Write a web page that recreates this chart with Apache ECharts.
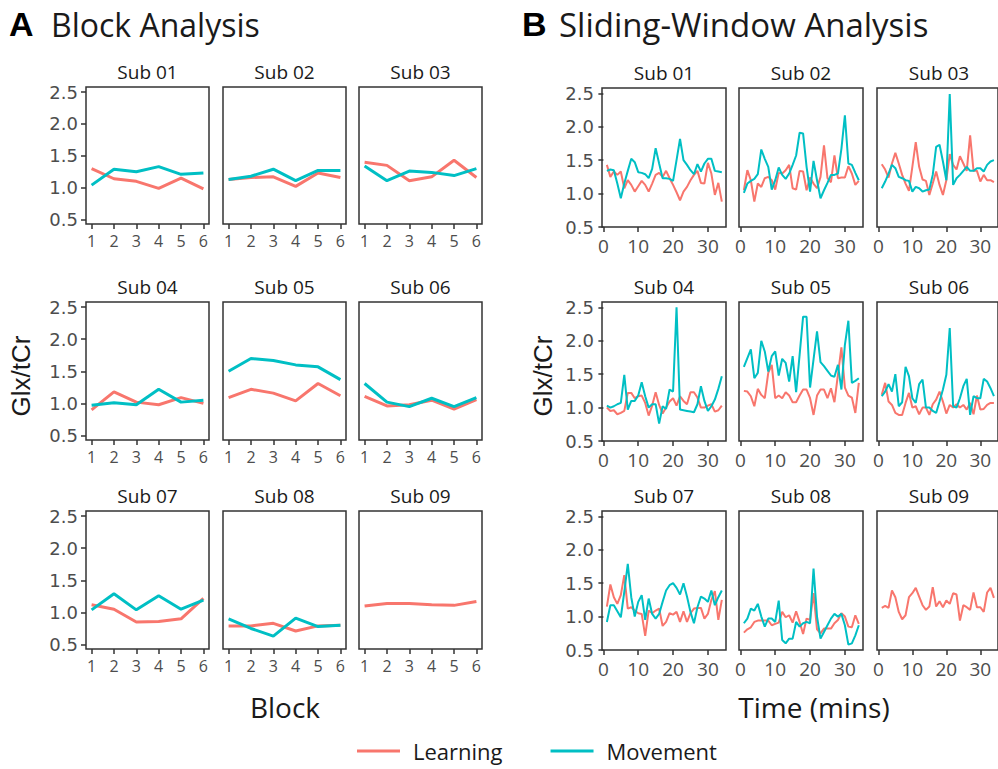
<!DOCTYPE html>
<html><head><meta charset="utf-8">
<script src="https://cdn.jsdelivr.net/npm/echarts@6/dist/echarts.min.js"></script>
<style>html,body{margin:0;padding:0;background:#fff}#chart{width:998px;height:769px}</style>
</head><body><div id="chart"></div>
<script>
// ---------- data ----------
const subjects = ['Sub 01','Sub 02','Sub 03','Sub 04','Sub 05','Sub 06','Sub 07','Sub 08','Sub 09'];
const legendNames = ['Learning','Movement'];
const blocks = [1,2,3,4,5,6];
const blockLearning = [
  [1.30,1.14,1.10,0.99,1.15,0.98],
  [1.13,1.16,1.17,1.02,1.23,1.16],
  [1.40,1.35,1.11,1.17,1.43,1.16],
  [0.90,1.18,1.02,0.98,1.09,1.00],
  [1.09,1.22,1.16,1.04,1.31,1.12],
  [1.11,0.96,0.98,1.05,0.91,1.06],
  [1.12,1.05,0.85,0.86,0.90,1.22],
  [0.79,0.79,0.83,0.71,0.79,0.80],
  [1.10,1.14,1.14,1.12,1.11,1.17]
];
const blockMovement = [
  [1.04,1.29,1.25,1.33,1.21,1.23],
  [1.13,1.18,1.29,1.11,1.27,1.27],
  [1.34,1.11,1.26,1.24,1.19,1.30],
  [0.97,1.01,0.98,1.22,1.02,1.05],
  [1.50,1.70,1.67,1.60,1.57,1.37],
  [1.31,1.02,0.95,1.08,0.95,1.09],
  [1.04,1.29,1.04,1.26,1.05,1.19],
  [0.90,0.75,0.63,0.91,0.78,0.80],
  null
];
const minutes = [1,2,3,4,5,6,7,8,9,10,11,12,13,14,15,16,17,18,19,20,21,22,23,24,25,26,27,28,29,30,31,32,33,34];
const windowLearning = [
  [1.43,1.25,1.33,1.28,1.33,1.08,1.20,1.13,1.03,1.11,1.19,1.13,1.03,1.15,1.28,1.31,1.25,1.34,1.23,1.13,1.02,0.90,1.03,1.10,1.20,1.28,1.34,1.16,1.15,1.46,1.30,0.98,1.16,0.88],
  [1.05,1.35,1.20,0.88,1.15,1.10,1.23,1.25,1.20,1.06,1.31,1.30,1.35,1.43,1.08,1.06,1.34,1.33,1.05,1.24,1.15,1.08,1.25,1.72,1.23,1.17,1.57,1.23,1.24,1.24,1.41,1.30,1.13,1.19],
  [1.44,1.36,1.24,1.45,1.61,1.45,1.28,1.15,1.04,1.40,1.77,1.40,1.21,1.19,0.98,1.15,1.33,1.13,0.98,1.20,1.59,1.43,1.36,1.56,1.45,1.34,1.87,1.34,1.34,1.18,1.28,1.20,1.20,1.17],
  [1.00,0.95,0.96,0.90,0.92,0.95,1.22,1.22,1.14,1.17,1.18,1.07,0.88,1.03,1.23,1.04,0.91,1.00,1.09,1.14,1.03,1.17,1.10,1.05,1.23,1.23,1.15,1.00,1.00,1.03,1.05,0.94,0.96,1.03],
  [1.25,1.24,1.17,1.02,1.28,1.19,1.14,1.52,1.64,1.14,1.18,1.14,1.23,1.18,1.08,1.08,1.18,1.27,1.27,1.14,0.89,1.18,1.27,1.27,1.14,1.29,1.08,1.49,1.90,1.30,1.18,1.15,0.92,1.37],
  [1.19,1.37,1.09,1.04,0.92,0.89,0.89,1.07,1.22,1.00,1.02,0.90,1.00,1.00,0.89,1.05,1.12,1.24,1.09,0.91,1.04,1.00,1.05,1.00,1.04,0.97,1.07,0.90,1.18,0.97,0.98,1.04,1.07,1.07],
  [1.15,1.48,1.29,1.19,1.32,1.62,1.12,1.14,1.09,1.05,1.04,0.71,1.09,1.05,1.09,1.12,0.86,0.92,1.05,1.03,1.07,0.92,1.08,0.92,1.05,1.12,1.13,1.13,0.97,1.04,1.25,1.38,0.95,1.25],
  [0.76,0.81,0.84,0.92,0.94,0.94,0.94,0.94,0.87,0.89,0.91,1.07,0.99,1.02,0.91,1.08,0.92,0.74,0.97,0.95,1.35,0.81,0.75,0.82,0.82,0.82,0.90,0.95,1.05,1.00,0.85,0.84,1.02,0.89],
  [1.13,1.16,1.13,1.39,1.29,1.07,0.96,1.02,1.29,1.35,1.43,1.30,1.17,1.10,1.15,1.44,1.15,1.23,1.14,1.24,1.19,1.35,1.33,0.94,1.17,1.14,1.10,1.36,1.14,1.14,1.07,1.36,1.43,1.28]
];
const windowMovement = [
  [1.34,1.36,1.35,1.15,0.93,1.15,1.34,1.52,1.47,1.32,1.31,1.29,1.23,1.37,1.68,1.45,1.23,1.23,1.22,1.19,1.50,1.82,1.50,1.43,1.35,1.29,1.44,1.33,1.45,1.52,1.52,1.34,1.33,1.32],
  [1.01,1.15,1.19,1.22,1.29,1.66,1.52,1.40,1.06,1.20,1.39,1.28,1.22,1.30,1.43,1.57,1.91,1.90,1.40,1.03,1.49,1.20,0.93,1.05,1.16,1.28,1.28,1.30,1.67,2.17,1.45,1.43,1.31,1.20],
  [1.08,1.18,1.30,1.43,1.38,1.25,1.23,1.20,1.19,1.03,1.10,1.08,1.03,1.05,1.06,1.28,1.70,1.73,1.48,1.20,2.49,1.13,1.23,1.28,1.34,1.40,1.34,1.34,1.38,1.38,1.33,1.43,1.48,1.50],
  [1.03,1.00,1.02,1.05,1.07,1.49,0.97,1.10,1.10,1.18,1.38,1.17,1.00,1.05,1.05,0.76,1.02,0.98,1.27,1.24,2.50,0.97,0.96,0.95,0.94,0.93,1.05,1.32,1.10,0.95,1.02,1.12,1.28,1.47],
  [1.61,1.74,1.87,1.44,1.52,2.00,1.84,1.54,1.77,1.84,1.48,1.73,1.67,1.39,1.77,1.23,1.79,2.36,2.36,1.30,1.72,2.14,1.68,1.62,1.55,1.48,1.46,1.64,1.27,1.94,2.30,1.37,1.40,1.44],
  [1.17,1.24,1.35,1.24,1.50,1.02,1.08,1.61,1.47,1.14,1.07,1.35,1.42,1.00,1.00,0.95,0.92,1.09,1.27,1.49,2.19,1.02,1.00,1.14,1.32,1.43,0.89,1.17,1.14,1.14,1.43,1.39,1.29,1.17],
  [0.92,1.17,1.17,1.08,0.99,1.37,1.79,1.29,1.00,1.22,1.32,0.95,1.27,1.04,0.97,1.04,1.22,1.39,1.47,1.50,1.43,1.33,1.50,1.30,1.07,0.90,1.14,1.30,1.27,1.22,1.39,1.17,1.29,1.39],
  [0.90,0.97,1.12,1.09,1.19,1.00,0.85,0.97,0.97,0.92,1.24,0.65,0.60,0.67,0.67,0.92,0.85,0.90,0.92,0.90,1.72,1.00,0.67,0.77,0.87,0.97,1.04,1.00,1.04,0.87,0.58,0.60,0.72,0.87],
  null
];
const yTicks = [0.5,1.0,1.5,2.0,2.5];
const blockTicks = [1,2,3,4,5,6];
const timeTicks = [0,10,20,30];

// ---------- layout / style ----------
const RED = '#F8766D', TEAL = '#00BFC4';
const BORDER = '#333333', TICKTXT = '#4d4d4d', TXT = '#1a1a1a';
const SANS = '"Open Sans", "Noto Sans", sans-serif';
const YFONT = '"DejaVu Sans", sans-serif';
const BOLD = '"Liberation Sans", Arial, sans-serif';

const panels = [
  { cols:[86,223,359], w:123, rows:[[87,137],[302,138],[511,138]],
    xmin:0.75, xmax:6.25, ymin:0.43, ymax:2.58, xs:blocks, L:blockLearning, M:blockMovement,
    xt:blockTicks, xfs:16, lw:3 },
  { cols:[602,739,877], w:124, rows:[[88,139],[302,139],[511,139]],
    xmin:-0.4, xmax:35.2, ymin:0.5, ymax:2.58, xs:minutes, L:windowLearning, M:windowMovement,
    xt:timeTicks, xfs:19, lw:2 }
];

const grids = [], xAxes = [], yAxes = [], series = [], graphics = [];
panels.forEach(p => {
  subjects.forEach((name, s) => {
    const r = Math.floor(s / 3), c = s % 3;
    const gi = grids.length;
    const left = p.cols[c], top = p.rows[r][0], h = p.rows[r][1];
    grids.push({ left, top, width: p.w, height: h, show: true,
      borderColor: BORDER, borderWidth: 1.5, backgroundColor: 'transparent', containLabel: false });
    xAxes.push({ gridIndex: gi, type: 'value', min: p.xmin, max: p.xmax,
      axisLine: { show: false }, splitLine: { show: false },
      axisTick: { show: true, length: 5, customValues: p.xt, lineStyle: { color: BORDER, width: 1.5 } },
      axisLabel: { show: true, customValues: p.xt, margin: 9, color: TICKTXT, fontSize: p.xfs, fontFamily: SANS } });
    yAxes.push({ gridIndex: gi, type: 'value', min: p.ymin, max: p.ymax,
      axisLine: { show: false }, splitLine: { show: false },
      axisTick: { show: c === 0, length: 5, customValues: yTicks, lineStyle: { color: BORDER, width: 1.5 } },
      axisLabel: { show: c === 0, customValues: yTicks, margin: 8, color: TICKTXT, fontSize: 18, fontFamily: YFONT,
        formatter: v => v.toFixed(1) } });
    const addLine = (vals, nm, col) => {
      if (!vals) return;
      series.push({ type: 'line', name: nm, xAxisIndex: gi, yAxisIndex: gi,
        data: p.xs.map((x, i) => [x, vals[i]]), showSymbol: false, symbol: 'none',
        lineStyle: { color: col, width: p.lw }, itemStyle: { color: col }, z: 3 });
    };
    addLine(p.L[s], legendNames[0], RED);
    addLine(p.M[s], legendNames[1], TEAL);
    graphics.push({ type: 'text', x: left + p.w / 2, y: top - 15.5,
      style: { text: name, fill: TXT, fontSize: 19, fontFamily: SANS, align: 'center', verticalAlign: 'middle' } });
  });
});

// headings, axis titles
const txt = (t, x, y, o) => graphics.push(Object.assign({ type: 'text', x, y,
  style: Object.assign({ text: t, fill: TXT, fontFamily: SANS, verticalAlign: 'middle', align: 'left' }, o.style) }, o.el || {}));
txt('A', 9, 24, { style: { fontSize: 34, fontWeight: 'bold', fontFamily: BOLD, fill: '#000' } });
txt('Block Analysis', 51, 24, { style: { fontSize: 32 } });
txt('B', 522, 24, { style: { fontSize: 34, fontWeight: 'bold', fontFamily: BOLD, fill: '#000' } });
txt('Sliding-Window Analysis', 559, 24, { style: { fontSize: 33 } });
txt('Block', 285, 707, { style: { fontSize: 28, align: 'center' } });
txt('Time (mins)', 814, 707, { style: { fontSize: 28, align: 'center' } });
txt('Glx/tCr', 21, 376, { style: { fontSize: 26, align: 'center', fontFamily: BOLD }, el: { rotation: Math.PI / 2 } });
txt('Glx/tCr', 543, 376, { style: { fontSize: 26, align: 'center', fontFamily: BOLD }, el: { rotation: Math.PI / 2 } });

const chart = echarts.init(document.getElementById('chart'), null, { renderer: 'svg' });
chart.setOption({
  animation: false,
  backgroundColor: '#ffffff',
  grid: grids, xAxis: xAxes, yAxis: yAxes, series,
  legend: { data: legendNames, left: 357, top: 740, icon: 'rect', itemWidth: 43, itemHeight: 3, itemGap: 48,
    padding: 0, textStyle: { fontSize: 22, fontFamily: SANS, color: TXT, padding: [0, 0, 0, 8] }, selectedMode: false },
  graphic: graphics
});
</script></body></html>
